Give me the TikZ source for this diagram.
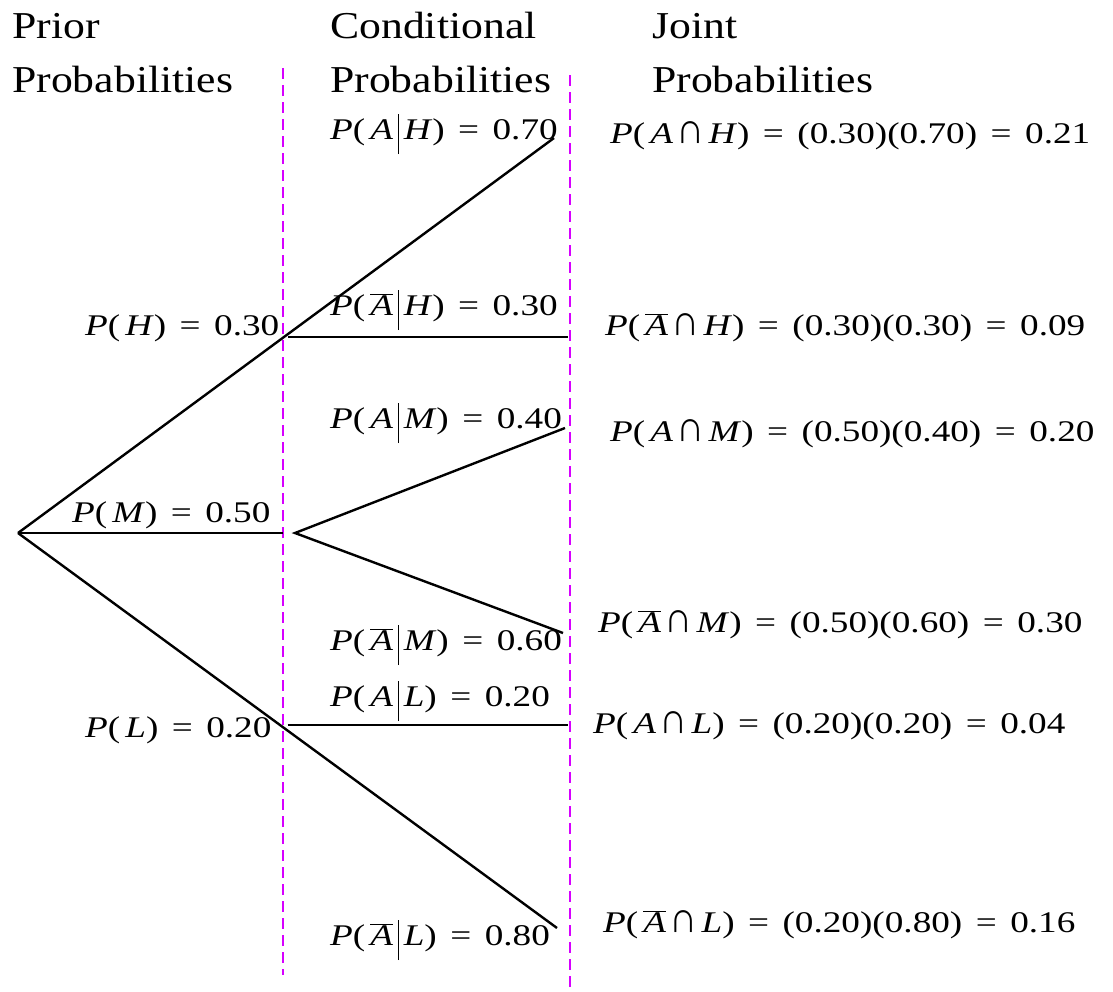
\documentclass[tikz,border=0pt]{standalone}
\usepackage{fontspec}
\usepackage{graphicx}
\setmainfont{Liberation Serif}[FakeStretch=1.24]
\newfontfamily\headfont{Liberation Serif}[FakeStretch=1.15]
\usetikzlibrary{calc}

\definecolor{divline}{RGB}{214,0,255}
\newcommand{\cb}{\,\rule[-0.5em]{0.6pt}{1.35em}\,}
\newcommand{\Ab}{$\overline{\hbox{\textit{A}}}$}
\newcommand{\inter}{\hspace{0.12em}\raisebox{0pt}{\scalebox{1.05}[1.45]{∩}}\hspace{0.12em}}
\newcommand{\eq}{\hspace{0.45em}=\hspace{0.45em}}
\newcommand{\prb}[1]{\textit{P}(\,#1)}

\tikzset{
  branch/.style={line width=2.4pt},
  divider/.style={divline,line width=1.8pt,dash pattern=on 11pt off 6pt},
  head/.style={anchor=base west,inner sep=0pt,align=left,font=\headfont\fontsize{38}{54}\selectfont},
  prob/.style={anchor=base west,inner sep=0pt,font=\fontsize{30}{36}\selectfont}
}

\begin{document}
\begin{tikzpicture}[x=1pt,y=-1pt]
\useasboundingbox (0,0) rectangle (1113,991);

\draw[divider] (283,68) -- (283,975);
\draw[divider] (570,75) -- (570,990);

\node[head] (prior) at (12,92) {Prior\\Probabilities};
\node[head] (cond) at (330,92) {Conditional\\Probabilities};
\node[head] (joint) at (652,92) {Joint\\Probabilities};

\coordinate (root) at (18,533);
\coordinate (ah) at (554,138);
\coordinate (h) at ($(root)!0.504!(ah)$);
\coordinate (nah) at (568,337);
\coordinate (m) at (283,533);
\coordinate (mf) at (295,533);
\coordinate (am) at (565,428);
\coordinate (nam) at (563,633);
\coordinate (al) at (568,725);
\coordinate (nal) at (557,928);
\coordinate (l) at ($(root)!0.5!(nal)$);

\draw[branch] (root) -- (ah);
\draw[branch] (h |- nah) -- (nah);
\draw[branch] (root) -- (m);
\draw[branch] (am) -- (mf) -- (nam);
\draw[branch] (root) -- (nal);
\draw[branch] (l |- al) -- (al);

\node[prob] (ph) at (85,335) {\prb{\textit{H}}\eq0.30};
\node[prob] (pm) at (72,522) {\prb{\textit{M}}\eq0.50};
\node[prob] (pl) at (85,737) {\prb{\textit{L}}\eq0.20};

\node[prob] (cah) at (330,139) {\prb{\textit{A}\cb\textit{H}}\eq0.70};
\node[prob] (cnah) at (330,315) {\prb{\Ab\cb\textit{H}}\eq0.30};
\node[prob] (cam) at (330,428) {\prb{\textit{A}\cb\textit{M}}\eq0.40};
\node[prob] (cnam) at (330,650) {\prb{\Ab\cb\textit{M}}\eq0.60};
\node[prob] (cal) at (330,706) {\prb{\textit{A}\cb\textit{L}}\eq0.20};
\node[prob] (cnal) at (330,945) {\prb{\Ab\cb\textit{L}}\eq0.80};

\node[prob] (jah) at (610,143) {\prb{\textit{A}\inter\textit{H}}\eq(0.30)(0.70)\eq0.21};
\node[prob] (jnah) at (605,335) {\prb{\Ab\inter\textit{H}}\eq(0.30)(0.30)\eq0.09};
\node[prob] (jam) at (610,441) {\prb{\textit{A}\inter\textit{M}}\eq(0.50)(0.40)\eq0.20};
\node[prob] (jnam) at (598,632) {\prb{\Ab\inter\textit{M}}\eq(0.50)(0.60)\eq0.30};
\node[prob] (jal) at (593,733) {\prb{\textit{A}\inter\textit{L}}\eq(0.20)(0.20)\eq0.04};
\node[prob] (jnal) at (603,932) {\prb{\Ab\inter\textit{L}}\eq(0.20)(0.80)\eq0.16};
\end{tikzpicture}
\end{document}
